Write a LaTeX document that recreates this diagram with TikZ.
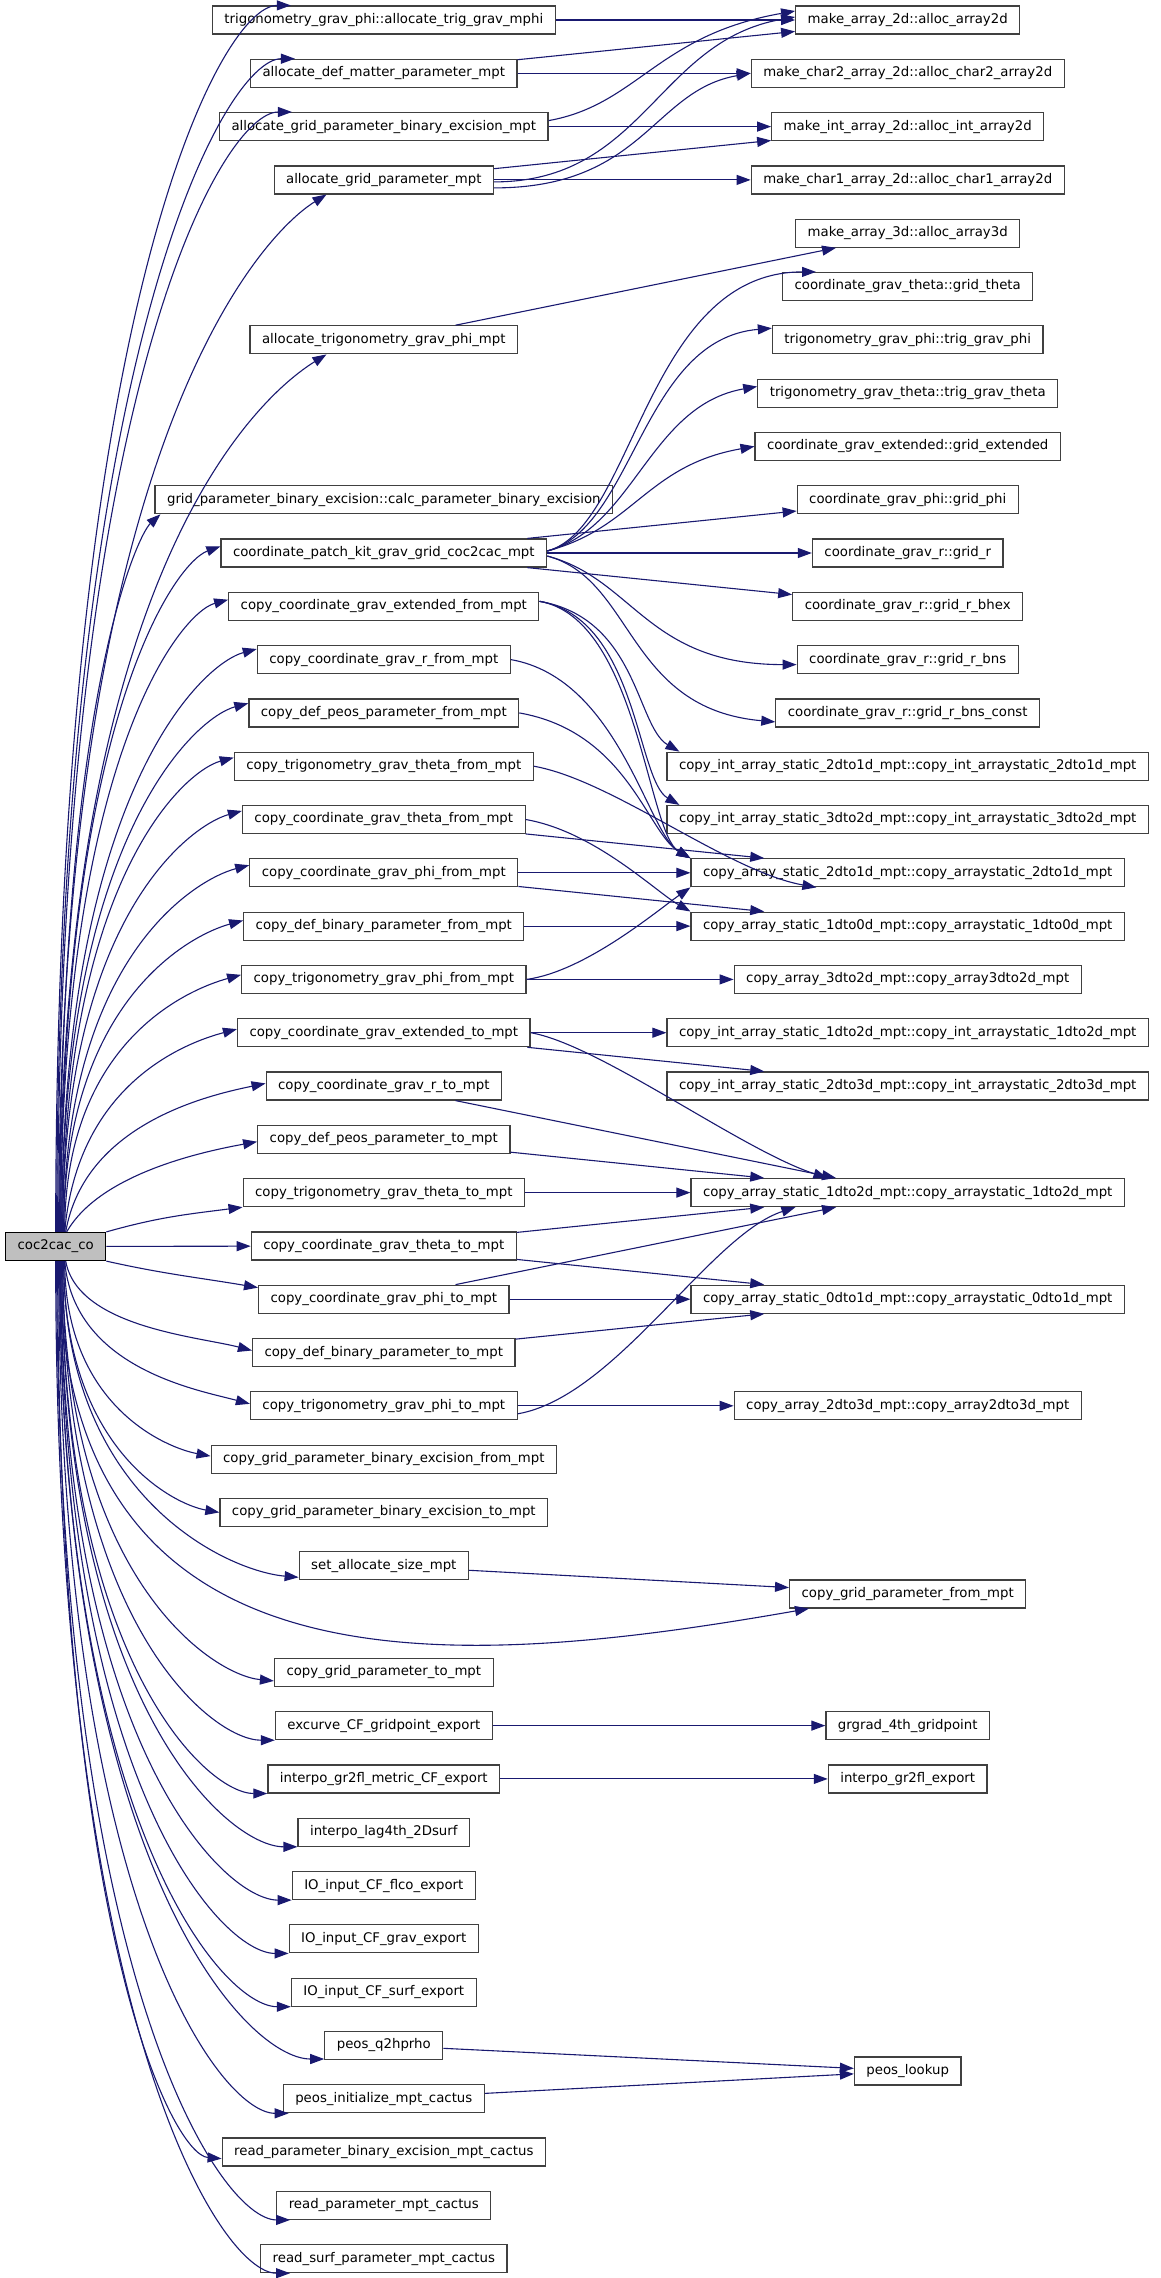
\documentclass[tikz,border=0pt]{standalone}
\usepackage{fontspec}
\setmainfont{DejaVu Sans}
\usetikzlibrary{arrows.meta}
\definecolor{edgeblue}{HTML}{191970}
\definecolor{rootgray}{HTML}{BFBFBF}
\tikzset{
  fn/.style={draw=black!75, line width=1.2pt, fill=white, minimum height=28pt,
    inner xsep=12pt, inner ysep=0pt, font=\fontsize{13.3}{16}\selectfont},
  root/.style={fn, draw=black, fill=rootgray},
  call/.style={draw=edgeblue, line width=1.1pt, -{Triangle[length=14pt,width=10pt]}},
}
\catcode`\_=12
\begin{document}
\begin{tikzpicture}[x=1pt,y=-1pt]
\useasboundingbox (0,0) rectangle (1160,2278);
% caller
\node[root] (coc) at (55.7,1246.5) {coc2cac_co};
% called from coc2cac_co
\foreach \r/\nm/\txt in {
  0/allocmphi/trigonometry_grav_phi::allocate_trig_grav_mphi,
  1/allocdefmatter/allocate_def_matter_parameter_mpt,
  2/allocgridbinex/allocate_grid_parameter_binary_excision_mpt,
  3/allocgrid/allocate_grid_parameter_mpt,
  6/alloctrigphi/allocate_trigonometry_grav_phi_mpt,
  9/calcbinex/grid_parameter_binary_excision::calc_parameter_binary_excision,
  10/patchkit/coordinate_patch_kit_grav_grid_coc2cac_mpt,
  11/extfrom/copy_coordinate_grav_extended_from_mpt,
  12/rfrom/copy_coordinate_grav_r_from_mpt,
  13/peosfrom/copy_def_peos_parameter_from_mpt,
  14/trigthetafrom/copy_trigonometry_grav_theta_from_mpt,
  15/thetafrom/copy_coordinate_grav_theta_from_mpt,
  16/phifrom/copy_coordinate_grav_phi_from_mpt,
  17/binfrom/copy_def_binary_parameter_from_mpt,
  18/trigphifrom/copy_trigonometry_grav_phi_from_mpt,
  19/extto/copy_coordinate_grav_extended_to_mpt,
  20/rto/copy_coordinate_grav_r_to_mpt,
  21/peosto/copy_def_peos_parameter_to_mpt,
  22/trigthetato/copy_trigonometry_grav_theta_to_mpt,
  23/thetato/copy_coordinate_grav_theta_to_mpt,
  24/phito/copy_coordinate_grav_phi_to_mpt,
  25/binto/copy_def_binary_parameter_to_mpt,
  26/trigphito/copy_trigonometry_grav_phi_to_mpt,
  27/gridbinexfrom/copy_grid_parameter_binary_excision_from_mpt,
  28/gridbinexto/copy_grid_parameter_binary_excision_to_mpt,
  29/setsize/set_allocate_size_mpt,
  31/gridto/copy_grid_parameter_to_mpt,
  32/excurve/excurve_CF_gridpoint_export,
  33/metricCF/interpo_gr2fl_metric_CF_export,
  34/lag4th/interpo_lag4th_2Dsurf,
  35/IOflco/IO_input_CF_flco_export,
  36/IOgrav/IO_input_CF_grav_export,
  37/IOsurf/IO_input_CF_surf_export,
  38/q2hprho/peos_q2hprho,
  39/peosinit/peos_initialize_mpt_cactus,
  40/readbinex/read_parameter_binary_excision_mpt_cactus,
  41/readparam/read_parameter_mpt_cactus,
  42/readsurf/read_surf_parameter_mpt_cactus%
}
\node[fn] (\nm) at (383.8,{20+53.3*\r}) {\txt};
% second level
\foreach \r/\nm/\txt in {
  0/array2d/make_array_2d::alloc_array2d,
  1/char2/make_char2_array_2d::alloc_char2_array2d,
  2/int2d/make_int_array_2d::alloc_int_array2d,
  3/char1/make_char1_array_2d::alloc_char1_array2d,
  4/array3d/make_array_3d::alloc_array3d,
  5/gtheta/coordinate_grav_theta::grid_theta,
  6/tphi/trigonometry_grav_phi::trig_grav_phi,
  7/ttheta/trigonometry_grav_theta::trig_grav_theta,
  8/gext/coordinate_grav_extended::grid_extended,
  9/gphi/coordinate_grav_phi::grid_phi,
  10/gr/coordinate_grav_r::grid_r,
  11/grbhex/coordinate_grav_r::grid_r_bhex,
  12/grbns/coordinate_grav_r::grid_r_bns,
  13/grbnsconst/coordinate_grav_r::grid_r_bns_const,
  14/int2to1/copy_int_array_static_2dto1d_mpt::copy_int_arraystatic_2dto1d_mpt,
  15/int3to2/copy_int_array_static_3dto2d_mpt::copy_int_arraystatic_3dto2d_mpt,
  16/s2to1/copy_array_static_2dto1d_mpt::copy_arraystatic_2dto1d_mpt,
  17/s1to0/copy_array_static_1dto0d_mpt::copy_arraystatic_1dto0d_mpt,
  18/a3to2/copy_array_3dto2d_mpt::copy_array3dto2d_mpt,
  19/int1to2/copy_int_array_static_1dto2d_mpt::copy_int_arraystatic_1dto2d_mpt,
  20/int2to3/copy_int_array_static_2dto3d_mpt::copy_int_arraystatic_2dto3d_mpt,
  22/s1to2/copy_array_static_1dto2d_mpt::copy_arraystatic_1dto2d_mpt,
  24/s0to1/copy_array_static_0dto1d_mpt::copy_arraystatic_0dto1d_mpt,
  26/a2to3/copy_array_2dto3d_mpt::copy_array2dto3d_mpt,
  29.53/gridfrom/copy_grid_parameter_from_mpt,
  32/grgrad/grgrad_4th_gridpoint,
  33/gr2fl/interpo_gr2fl_export,
  38.48/peoslookup/peos_lookup%
}
\node[fn] (\nm) at (907.7,{20+53.3*\r}) {\txt};
% straight calls
\foreach \a/\b in {coc/thetato, allocmphi/array2d, allocdefmatter/array2d,
  allocdefmatter/char2, allocgridbinex/int2d, allocgrid/int2d, allocgrid/char1,
  alloctrigphi/array3d, patchkit/gphi, patchkit/gr, patchkit/grbhex,
  thetafrom/s2to1, phifrom/s2to1, phifrom/s1to0, binfrom/s1to0, trigphifrom/a3to2,
  extto/int1to2, extto/int2to3, rto/s1to2, peosto/s1to2, trigthetato/s1to2,
  thetato/s1to2, thetato/s0to1, phito/s1to2, phito/s0to1, binto/s0to1,
  trigphito/a2to3, setsize/gridfrom, excurve/grgrad, metricCF/gr2fl,
  q2hprho/peoslookup, peosinit/peoslookup}
\draw[call] (\a) -- (\b);
% calls going up from coc2cac_co
\foreach \tgt/\anc/\dx/\dy/\sx/\ax/\ay/\bx/\by in {
  allocmphi/north west/79/0/0/0/-920/-71/0,
  allocdefmatter/north west/45/0/1/0/-880/-70/0,
  allocgridbinex/north west/73/0/2/0/-839/-70/0,
  allocgrid/south west/53/0/3/0/-779/-68/42,
  alloctrigphi/south west/77/0/4/0/-659/-68/42,
  calcbinex/south west/6/0/4/0/-539/-22/20,
  patchkit/north west/0/-8/5/0/-513/-45/16,
  extfrom/north west/0/-8/5/0/-473/-48/13,
  rfrom/north west/0/-4/6/0/-436/-56/15,
  peosfrom/north west/0/-5/6/0/-395/-53/14,
  trigthetafrom/north west/0/-6/7/0/-354/-49/13,
  thetafrom/north west/0/-6/7/0/-315/-51/14,
  phifrom/north west/0/-7/8/0/-274/-54/14,
  binfrom/north west/0/-9/8/0/-232/-52/14,
  trigphifrom/north west/0/-10/9/0/-192/-51/14,
  extto/north west/0/-11/9/13/-150/-49/13,
  rto/north west/0/-12/10/19/-108/-58/12,
  peosto/north west/0/-17/11/33/-58/-55/10%
}
\draw[call] ([xshift=\sx pt]coc.north) .. controls +(\ax,\ay) and +(\bx,\by) .. ([xshift=\dx pt,yshift=\dy pt]\tgt.\anc);
% calls going down from coc2cac_co
\foreach \tgt/\anc/\dx/\dy/\sx/\ax/\ay/\bx/\by in {
  binto/west/0/2/10/12/66/-54/-14,
  trigphito/west/0/2/9/9/107/-53/-14,
  gridbinexfrom/west/0/3/9/0/146/-43/-8,
  gridbinexto/west/0/0/8/0/188/-46/-8,
  setsize/south west/0/3/8/0/237/-70/-6,
  gridto/south west/0/6/7/0/314/-63/-6,
  excurve/south west/0/0/7/0/359/-64/0,
  metricCF/south west/0/0/6/0/399/-61/0,
  lag4th/south west/0/0/6/0/439/-71/0,
  IOflco/south west/0/0/5/0/479/-69/0,
  IOgrav/south west/0/0/5/0/519/-68/0,
  IOsurf/south west/0/0/4/0/559/-69/0,
  q2hprho/south west/0/1/4/0/598/-80/0,
  peosinit/south west/6/0/3/0/639/-69/0,
  readbinex/south west/0/8/2/0/673/-49/-4,
  readparam/south west/14/0/1/0/719/-70/0,
  readsurf/south west/30/0/0/0/759/-70/0%
}
\draw[call] ([xshift=\sx pt]coc.south) .. controls +(\ax,\ay) and +(\bx,\by) .. ([xshift=\dx pt,yshift=\dy pt]\tgt.\anc);
% near rows and the long one
\draw[call] (coc.north east) .. controls +(53,-15) and +(-55,7) .. (trigthetato.south west);
\draw[call] (coc.south east) .. controls +(58,13) and +(-59,-10) .. ([yshift=-3pt]phito.north west);
\draw[call] ([xshift=4pt]coc.south) .. controls +(0,440) and +(-360,63) .. ([xshift=20pt]gridfrom.south west);
% curved calls to the second level
\draw[call] ([yshift=6pt]allocgridbinex.east) .. controls +(89,-16) and +(-138,24) .. ([yshift=9pt]array2d.west);
\draw[call] ([yshift=-2pt]allocgrid.east) .. controls +(150,0) and +(-138,24) .. ([yshift=3pt]array2d.west);
\draw[call] ([yshift=-8pt]allocgrid.east) .. controls +(150,0) and +(-98,17) .. (char2.west);
\draw[call] ([yshift=2pt]patchkit.east) .. controls +(87,-23) and +(-170,0) .. ([xshift=34pt]gtheta.north west);
\draw[call] ([yshift=2pt]patchkit.east) .. controls +(87,-23) and +(-130,11) .. ([yshift=-3pt]tphi.north west);
\draw[call] ([yshift=2pt]patchkit.east) .. controls +(87,-23) and +(-108,19) .. ([yshift=-8pt]ttheta.north west);
\draw[call] ([yshift=2pt]patchkit.east) .. controls +(87,-23) and +(-108,19) .. (gext.west);
\draw[call] ([yshift=-3pt]patchkit.east) .. controls +(87,23) and +(-150,0) .. ([yshift=-5pt]grbns.west);
\draw[call] ([yshift=-3pt]patchkit.east) .. controls +(87,23) and +(-149,-13) .. ([yshift=-9pt]grbnsconst.west);
\draw[call] ([yshift=5pt]extfrom.east) .. controls +(98,17) and +(-43,-25) .. ([xshift=13pt]int2to1.north west);
\draw[call] ([yshift=5pt]extfrom.east) .. controls +(98,17) and +(-43,-25) .. ([xshift=13pt]int3to2.north west);
\draw[call] ([yshift=5pt]extfrom.east) .. controls +(98,17) and +(-43,-25) .. (s2to1.north west);
\draw[call] (rfrom.east) .. controls +(108,19) and +(-43,-25) .. (s2to1.north west);
\draw[call] (peosfrom.east) .. controls +(108,19) and +(-43,-25) .. (s2to1.north west);
\draw[call] (thetafrom.east) .. controls +(69,12) and +(-35,-20) .. (s1to0.north west);
\draw[call] (trigthetafrom.east) .. controls +(79,14) and +(-89,-16) .. ([xshift=126pt]s2to1.south west);
\draw[call] (trigphifrom.east) .. controls +(59,-8) and +(-33,23) .. (s2to1.south west);
\draw[call] (extto.east) .. controls +(69,12) and +(-86,-28) .. ([xshift=137pt]s1to2.north west);
\draw[call] ([yshift=-8pt]trigphito.east) .. controls +(98,-17) and +(-86,28) .. ([xshift=105pt]s1to2.south west);
\end{tikzpicture}
\end{document}
